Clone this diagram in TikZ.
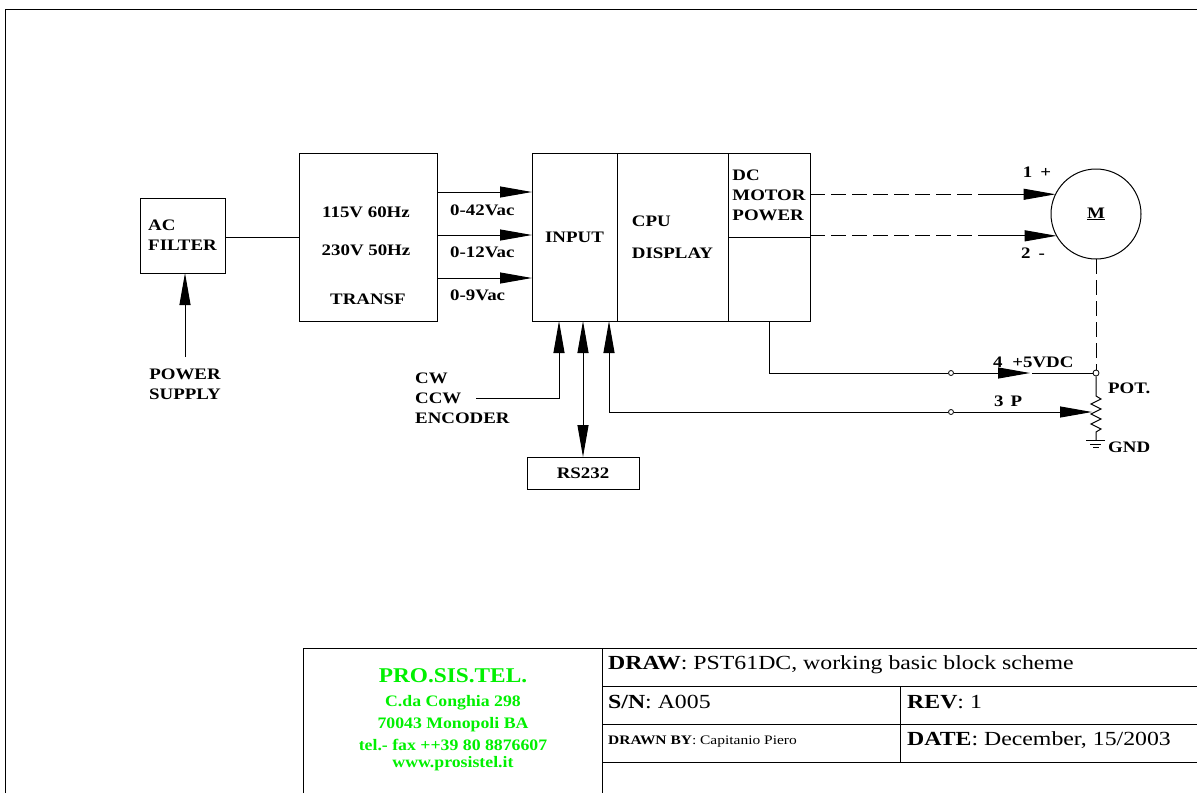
\documentclass[tikz,border=0pt]{standalone}
\usepackage{fontspec}
\setmainfont[FakeStretch=1.19]{Liberation Serif}
\newfontfamily\labelfont[FakeStretch=1.18]{Liberation Serif}
\newfontfamily\logofont[FakeStretch=1.11]{Liberation Serif}
\usepackage{xcolor}
\usepackage{tikz}
\usetikzlibrary{arrows.meta,positioning,calc}
\definecolor{LogoGreen}{HTML}{00F000}
\tikzset{
  % Base box
  BX/.style={rectangle,draw=black,line width=1pt,inner sep=0pt,outer sep=0pt,
             font=\labelfont\fontsize{16}{20}\selectfont\bfseries},
  % Text only
  LB/.style={inner sep=0pt,font=\labelfont\fontsize{16}{20}\selectfont\bfseries},
  LL/.style={LB,anchor=west,align=left},
  TT/.style={inner sep=0pt,anchor=west,font=\fontsize{20}{24}\selectfont},
  GR/.style={inner sep=0pt,text=LogoGreen,font=\logofont\fontsize{16}{19}\selectfont\bfseries},
  % Arrows and wires
  wire/.style={line width=1pt},
  arr/.style={wire,-{Triangle[length=32pt,width=11pt]}},
  dashwire/.style={wire,dash pattern=on 15pt off 6pt},
  joint/.style={circle,draw=black,fill=white,line width=0.8pt,inner sep=0pt,minimum size=6pt}
}
\begin{document}
\begin{tikzpicture}[x=1pt,y=-1pt,every node/.style={align=center}]
  \useasboundingbox (0,0) rectangle (1197,793);
  % frame
  \draw[wire] (5,793)--(5,9)--(1197,9);
  % blocks
  \node[BX,minimum width=85pt,minimum height=75pt,align=left] (filter) at (182.5,235.5) {AC\\FILTER};
  \node[BX,minimum width=138pt,minimum height=168pt,right=74pt of filter.east,yshift=-1.5pt] (transf) {};
  \node[BX,minimum width=85pt,minimum height=168pt,right=95pt of transf] (input) {INPUT};
  \node[BX,minimum width=111pt,minimum height=168pt,right=0pt of input,align=left,
        font=\labelfont\fontsize{16}{32}\selectfont\bfseries] (cpu) {CPU\\DISPLAY};
  \node[BX,minimum width=82pt,minimum height=84pt,anchor=north west,align=left] (power) at (cpu.north east) {DC\\MOTOR\\POWER};
  \node[BX,minimum width=82pt,minimum height=84pt,below=0pt of power] (spare) {};
  \node[BX,circle,minimum size=90pt] (motor) at (1096,214) {\underline{M}};
  \node[BX,minimum width=112pt,minimum height=32pt] (rs232) at (583,473) {RS232};
  % transformer text
  \node[LB] (v115) at (366,212) {115V 60Hz};
  \node[LB] (v230) at (366,250) {230V 50Hz};
  \node[LB] (name) at (368,299) {TRANSF};
  % free labels
  \node[LB] (supply) at (185,384) {POWER\\SUPPLY};
  \node[LL] (encoder) at (415,398) {CW\\CCW\\ENCODER};
  \node[LB,anchor=west] (vac42) at (450,210) {0-42Vac};
  \node[LB,anchor=west] (vac12) at (450,252) {0-12Vac};
  \node[LB,anchor=west] (vac9) at (450,295) {0-9Vac};
  \node[LB] (plus) at (1037,172) {1\hspace{8pt}+};
  \node[LB] (minus) at (1033,253) {2\hspace{8pt}-};
  \node[LB,anchor=west] (five) at (993,362) {4\hspace{5pt} +5VDC};
  \node[LB,anchor=west] (pee) at (994,401) {3\hspace{7pt}P};
  \node[LB,anchor=west] (pot) at (1108,388) {POT.};
  \node[LB,anchor=west] (gnd) at (1108,447) {GND};
  % supply side
  \draw[wire] (filter.east |- transf.west)--(transf.west);
  \draw[arr] (supply.north |- 0,357)--(supply.north |- filter.south);
  \foreach \y in {192,235,278}
    \draw[arr] (transf.east |- 0,\y)--(input.west |- 0,\y);
  % motor wires
  \coordinate (m1) at (motor.154);
  \coordinate (m2) at (motor.209);
  \coordinate (b1) at (990,0 |- m1);
  \coordinate (b2) at (990,0 |- m2);
  \draw[dashwire] (power.east |- b1)--(b1);
  \draw[dashwire] (power.east |- b2)--(b2);
  \draw[arr] (b1)--(m1);
  \draw[arr] (b2)--(m2);
  % potentiometer
  \node[joint] (hot) at (1096,373) {};
  \draw[dashwire] (motor.south)--(hot);
  \coordinate (tap) at (1092,412);
  \coordinate (gnd0) at (1096,440);
  \draw[wire] (hot)--(1096,396)--++(5,3)--++(-10,5)--++(10,5)--++(-10,5)--++(10,5)--++(-10,5)--++(10,5)--++(-5,3)--(gnd0);
  \draw[wire] (1086,440)--(1105,440) (1090,444)--(1101,444) (1093,447)--(1099,447);
  % control wires
  \node[joint,minimum size=5pt] (j4) at (951,373) {};
  \node[joint,minimum size=5pt] (j3) at (951,412) {};
  \coordinate (e4) at (1030,373);
  \draw[wire] (spare.south |- input.south)--(spare.south |- j4)--(j4);
  \draw[arr] (j4)--(e4);
  \draw[wire] (1032,373)--(hot);
  \draw[arr] (j3)--(tap);
  \draw[arr] (j3)--(609,412)--(input.south -| 609,0);
  \draw[arr] (476,398)--(559,398)--(input.south -| 559,0);
  \draw[arr,{Triangle[length=32pt,width=11pt]}-{Triangle[length=32pt,width=11pt]}] (input.south -| rs232.north)--(rs232.north);
  % title block
  \draw[wire] (303,793)--(303,648)--(1197,648);
  \draw[wire] (602,648)--(602,793);
  \draw[wire] (602,686)--(1197,686) (602,724)--(1197,724) (602,762)--(1197,762);
  \draw[wire] (900,686)--(900,762);
  \node[GR,font=\logofont\fontsize{21}{24}\selectfont\bfseries] (firm) at (453,676) {PRO.SIS.TEL.};
  \node[GR] (addr1) at (453,703) {C.da Conghia 298};
  \node[GR] (addr2) at (453,725) {70043 Monopoli BA};
  \node[GR] (addr3) at (453,745) {tel.- fax ++39 80 8876607};
  \node[GR] (addr4) at (453,764) {www.prosistel.it};
  \node[TT] (tdraw) at (608,665) {\textbf{DRAW}: PST61DC, working basic block scheme};
  \node[TT] (tsn) at (608,702) {\textbf{S/N}: A005};
  \node[TT,font=\fontsize{13}{16}\selectfont] (tby) at (608,742) {\textbf{DRAWN BY}: Capitanio Piero};
  \node[TT] (trev) at (907,702) {\textbf{REV}: 1};
  \node[TT] (tdate) at (907,740) {\textbf{DATE}: December, 15/2003};
\end{tikzpicture}
\end{document}
